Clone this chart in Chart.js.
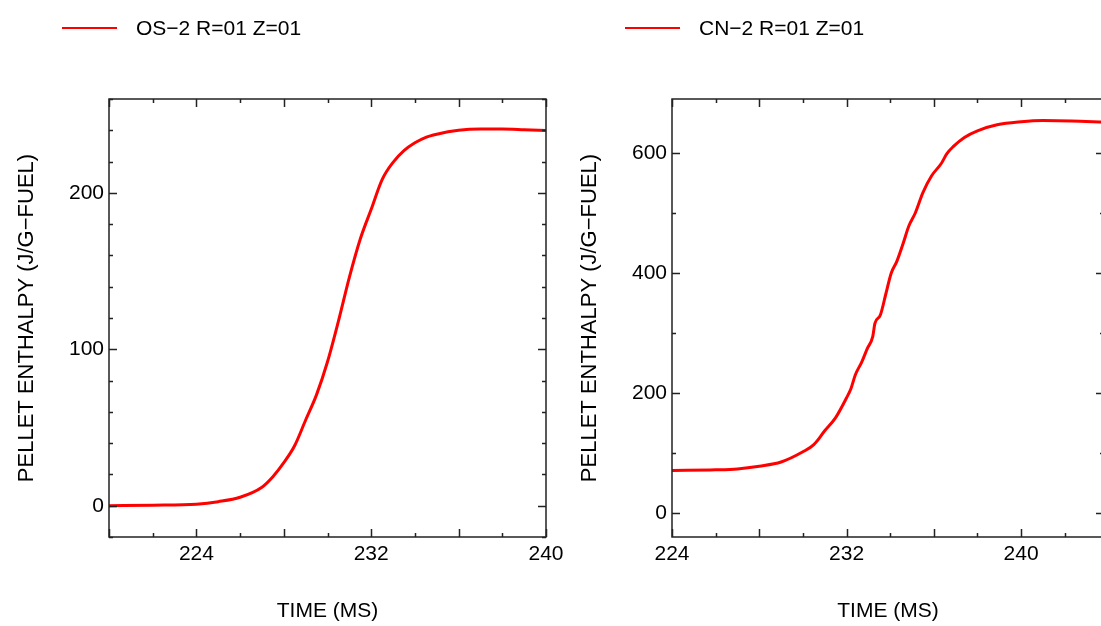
<!DOCTYPE html>
<html>
<head>
<meta charset="utf-8">
<script src="https://cdn.jsdelivr.net/npm/chart.js@4"></script>
<style>
    html, body { margin: 0; padding: 0; background: #fff; overflow: hidden; width: 1101px; height: 626px; }
    canvas { position: absolute; top: 0; }
    #osChart { left: 0; }
    #cnChart { left: 563px; }
</style>
</head>
<body>
<canvas id="osChart" width="600" height="626"></canvas>
<canvas id="cnChart" width="546" height="626"></canvas>
<script>
// OS-2 pellet enthalpy (left panel)
const osTime = [220, 222, 224, 225, 226, 227, 227.5, 228, 228.5, 229, 229.5, 230, 230.5, 231, 231.5, 232, 232.5, 233, 233.5, 234, 234.5, 235, 236, 237, 238, 239, 240];
const osEnthalpy = [0, 0.3, 1, 2.6, 5.4, 11.8, 18.5, 27.5, 38.5, 54.8, 71, 92, 118, 146, 170.5, 189.5, 208.5, 219.5, 227, 232, 235.5, 237.5, 240, 240.8, 240.8, 240.4, 239.9];

// CN-2 pellet enthalpy (right panel)
const cnTime = [224, 226, 227, 228, 229, 230, 230.5, 231, 231.5, 232, 232.2, 232.4, 232.7, 232.95, 233.2, 233.3, 233.55, 233.8, 234.05, 234.3, 234.6, 234.85, 235.15, 235.5, 235.9, 236.35, 236.6, 236.9, 237.4, 238, 238.9, 240, 241, 242.3, 243.8];
const cnEnthalpy = [71, 72, 73.5, 78, 85, 102, 114, 137, 159, 192, 207, 230, 252, 274, 294, 316, 330, 365, 400, 419, 450, 478, 500, 534, 562, 583, 599, 611, 626, 637, 647, 652, 654, 653.4, 651.5];

// ticks and labels
const osXTicks = [220, 222, 224, 226, 228, 230, 232, 234, 236, 238, 240];
const osYTicks = [-20, 0, 20, 40, 60, 80, 100, 120, 140, 160, 180, 200, 220, 240, 260];
const osYLabels = [0, 100, 200];
const cnXTicks = [224, 226, 228, 230, 232, 234, 236, 238, 240, 242];
const cnYTicks = [0, 100, 200, 300, 400, 500, 600];
const cnYLabels = [0, 200, 400, 600];
const xLabels = [224, 232, 240];

const FONT = "'Liberation Sans', Arial, sans-serif";

// box round the plot area with inward ticks on all four sides
const frameTicks = {
    id: 'frameTicks',
    afterDraw(chart, args, opts) {
        const { ctx, chartArea: a, scales: { x, y } } = chart;
        ctx.save();
        ctx.strokeStyle = '#222';
        ctx.lineWidth = 1.5;
        ctx.strokeRect(a.left, a.top, a.right - a.left, a.bottom - a.top);
        ctx.beginPath();
        x.ticks.forEach(t => {
            const px = Math.round(x.getPixelForValue(t.value)) + 0.5;
            const len = t.value % opts.xMajor === 0 ? 8 : 4;
            ctx.moveTo(px, a.bottom); ctx.lineTo(px, a.bottom - len);
            ctx.moveTo(px, a.top); ctx.lineTo(px, a.top + len);
        });
        y.ticks.forEach(t => {
            const py = Math.round(y.getPixelForValue(t.value)) + 0.5;
            const len = t.value % opts.yMajor === 0 ? 8 : 4;
            ctx.moveTo(a.left, py); ctx.lineTo(a.left + len, py);
            ctx.moveTo(a.right, py); ctx.lineTo(a.right - len, py);
        });
        ctx.stroke();
        ctx.restore();
    }
};

// legend as a short line followed by the series name
const lineLegend = {
    id: 'lineLegend',
    afterDraw(chart, args, opts) {
        const ctx = chart.ctx;
        chart.data.datasets.forEach(ds => {
            ctx.save();
            ctx.strokeStyle = ds.borderColor;
            ctx.lineWidth = 2;
            ctx.beginPath();
            ctx.moveTo(opts.x, opts.y);
            ctx.lineTo(opts.x + 55, opts.y);
            ctx.stroke();
            ctx.fillStyle = '#000';
            ctx.font = '21px ' + FONT;
            ctx.textBaseline = 'middle';
            ctx.fillText(ds.label, opts.x + 74, opts.y + 1);
            ctx.restore();
        });
    }
};

function makeChart(id, label, times, values, cfg) {
    new Chart(document.getElementById(id), {
        type: 'line',
        data: {
            datasets: [{
                label: label,
                data: times.map((t, i) => ({ x: t, y: values[i] })),
                borderColor: '#ff0000',
                borderWidth: 3,
                pointRadius: 0,
                cubicInterpolationMode: 'monotone',
                fill: false
            }]
        },
        options: {
            responsive: false,
            animation: false,
            layout: { padding: { top: 99, right: cfg.padRight, left: 0, bottom: 0 } },
            plugins: {
                legend: { display: false },
                tooltip: { enabled: false },
                lineLegend: { x: 62, y: 28 },
                frameTicks: { xMajor: 4, yMajor: cfg.yMajor }
            },
            scales: {
                x: {
                    type: 'linear',
                    min: cfg.xMin,
                    max: cfg.xMax,
                    afterBuildTicks: s => { s.ticks = cfg.xTicks.map(v => ({ value: v })); },
                    afterFit: s => { s.height = 89; },
                    grid: { display: false, drawTicks: false },
                    border: { display: false },
                    ticks: {
                        autoSkip: false,
                        maxRotation: 0,
                        padding: 5,
                        color: '#000',
                        font: { size: 21, family: FONT },
                        callback: v => xLabels.includes(v) ? String(v) : ''
                    },
                    title: {
                        display: true,
                        text: 'TIME (MS)',
                        color: '#000',
                        padding: { top: 0, bottom: 2 },
                        font: { size: 21, family: FONT }
                    }
                },
                y: {
                    min: cfg.yMin,
                    max: cfg.yMax,
                    afterBuildTicks: s => { s.ticks = cfg.yTicks.map(v => ({ value: v })); },
                    afterFit: s => { s.width = 109; },
                    grid: { display: false, drawTicks: false },
                    border: { display: false },
                    ticks: {
                        autoSkip: false,
                        padding: 5,
                        color: '#000',
                        font: { size: 21, family: FONT },
                        callback: v => cfg.yLabels.includes(v) ? String(v) : ''
                    },
                    title: {
                        display: true,
                        text: 'PELLET ENTHALPY (J/G\u2212FUEL)',
                        color: '#000',
                        padding: { top: 14, bottom: 0 },
                        font: { size: 22, family: FONT }
                    }
                }
            }
        },
        plugins: [frameTicks, lineLegend]
    });
}

makeChart('osChart', 'OS\u22122 R=01 Z=01', osTime, osEnthalpy, {
    xMin: 220, xMax: 240, yMin: -20, yMax: 260,
    xTicks: osXTicks, yTicks: osYTicks, yLabels: osYLabels,
    yMajor: 100, padRight: 54
});

makeChart('cnChart', 'CN\u22122 R=01 Z=01', cnTime, cnEnthalpy, {
    xMin: 224, xMax: 243.8, yMin: -40, yMax: 690,
    xTicks: cnXTicks, yTicks: cnYTicks, yLabels: cnYLabels,
    yMajor: 200, padRight: 5
});
</script>
</body>
</html>
